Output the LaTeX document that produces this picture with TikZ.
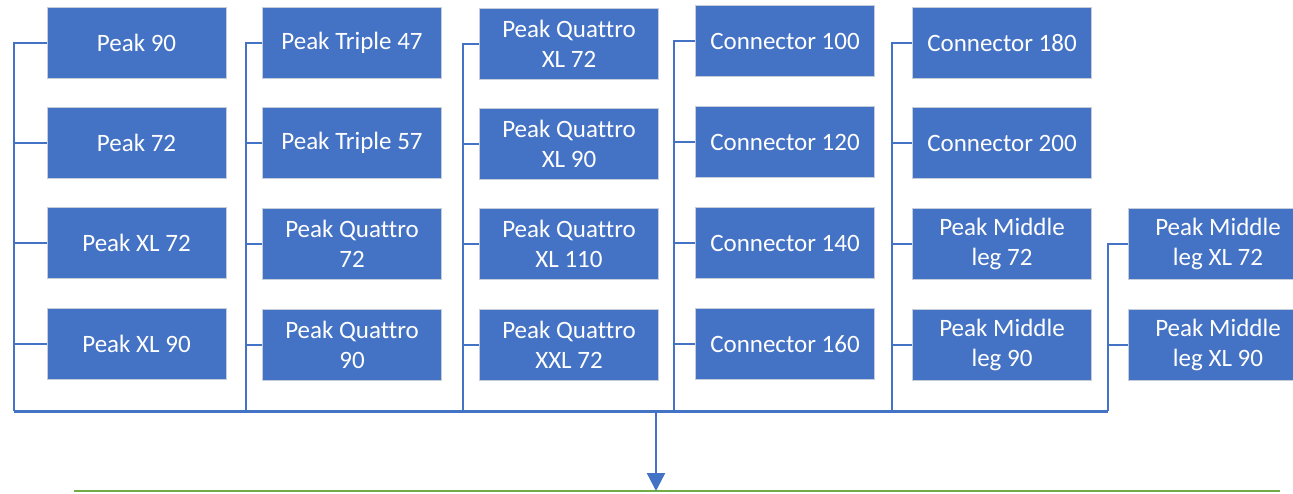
\documentclass[tikz,border=0pt]{standalone}
\usepackage{fontspec}
\setmainfont[Ligatures={NoCommon}]{Carlito}
\usetikzlibrary{arrows.meta}
\definecolor{boxblue}{HTML}{4472C4}
\definecolor{boxedge}{HTML}{C5CCDA}
\definecolor{linegreen}{HTML}{70AD47}
\tikzset{
  item/.style={rectangle, fill=boxblue, draw=boxedge, line width=0.9pt,
    minimum width=179pt, minimum height=71pt, inner sep=0pt,
    text=white, align=center, font=\fontsize{25}{30}\selectfont},
  link/.style={draw=boxblue, line width=2.4pt},
  busbottom/.style={draw=boxblue, line width=3pt},
  arrowline/.style={draw=boxblue, line width=2.4pt, -{Triangle[width=18pt,length=18pt]}},
  groundline/.style={draw=linegreen, line width=2.6pt}
}
\begin{document}
\begin{tikzpicture}[x=1pt,y=-1pt]
\useasboundingbox (0,0) rectangle (1293,493);
\clip (0,0) rectangle (1293,493);
% column 1
\node[item] (c1a) at (136.5,43) {Peak 90};
\node[item] (c1b) at (136.5,143) {Peak 72};
\node[item] (c1c) at (136.5,243) {Peak XL 72};
\node[item] (c1d) at (136.5,344) {Peak XL 90};
% column 2
\node[item] (c2a) at (352,43) {Peak Triple 47};
\node[item] (c2b) at (352,143) {Peak Triple 57};
\node[item] (c2c) at (352,244) {Peak Quattro\\72};
\node[item] (c2d) at (352,345) {Peak Quattro\\90};
% column 3
\node[item] (c3a) at (569,44) {Peak Quattro\\XL 72};
\node[item] (c3b) at (569,144) {Peak Quattro\\XL 90};
\node[item] (c3c) at (569,244) {Peak Quattro\\XL 110};
\node[item] (c3d) at (569,345) {Peak Quattro\\XXL 72};
% column 4
\node[item] (c4a) at (785,41) {Connector 100};
\node[item] (c4b) at (785,142) {Connector 120};
\node[item] (c4c) at (785,243) {Connector 140};
\node[item] (c4d) at (785,344) {Connector 160};
% column 5
\node[item] (c5a) at (1002,43) {Connector 180};
\node[item] (c5b) at (1002,143) {Connector 200};
\node[item] (c5c) at (1002,244) {Peak Middle\\leg 72};
\node[item] (c5d) at (1002,345) {Peak Middle\\leg 90};
% column 6
\node[item] (c6a) at (1218,244) {Peak Middle\\leg XL 72};
\node[item] (c6b) at (1218,345) {Peak Middle\\leg XL 90};
% bus bottom coordinates
\coordinate (b1) at (14,411);
\coordinate (b2) at (246,411);
\coordinate (b3) at (463,411);
\coordinate (b4) at (674,411);
\coordinate (b5) at (892,411);
\coordinate (b6) at (1108,411);
% branches
\foreach \c/\b in {c1a/b1,c1b/b1,c1c/b1,c1d/b1,
                   c2a/b2,c2b/b2,c2c/b2,c2d/b2,
                   c3a/b3,c3b/b3,c3c/b3,c3d/b3,
                   c4a/b4,c4b/b4,c4c/b4,c4d/b4,
                   c5a/b5,c5b/b5,c5c/b5,c5d/b5,
                   c6a/b6,c6b/b6}
  \draw[link] (\c.west) -| (\b);
% common bottom line
\draw[busbottom] (b1) -- (b6);
% arrow to ground line
\coordinate (a0) at (656,411);
\coordinate (gl) at (74,491);
\coordinate (gr) at (1280,491);
\coordinate (gm) at (656,491);
\draw[groundline] (gl) -- (gr);
\draw[arrowline] (a0) -- (gm);
\end{tikzpicture}
\end{document}
